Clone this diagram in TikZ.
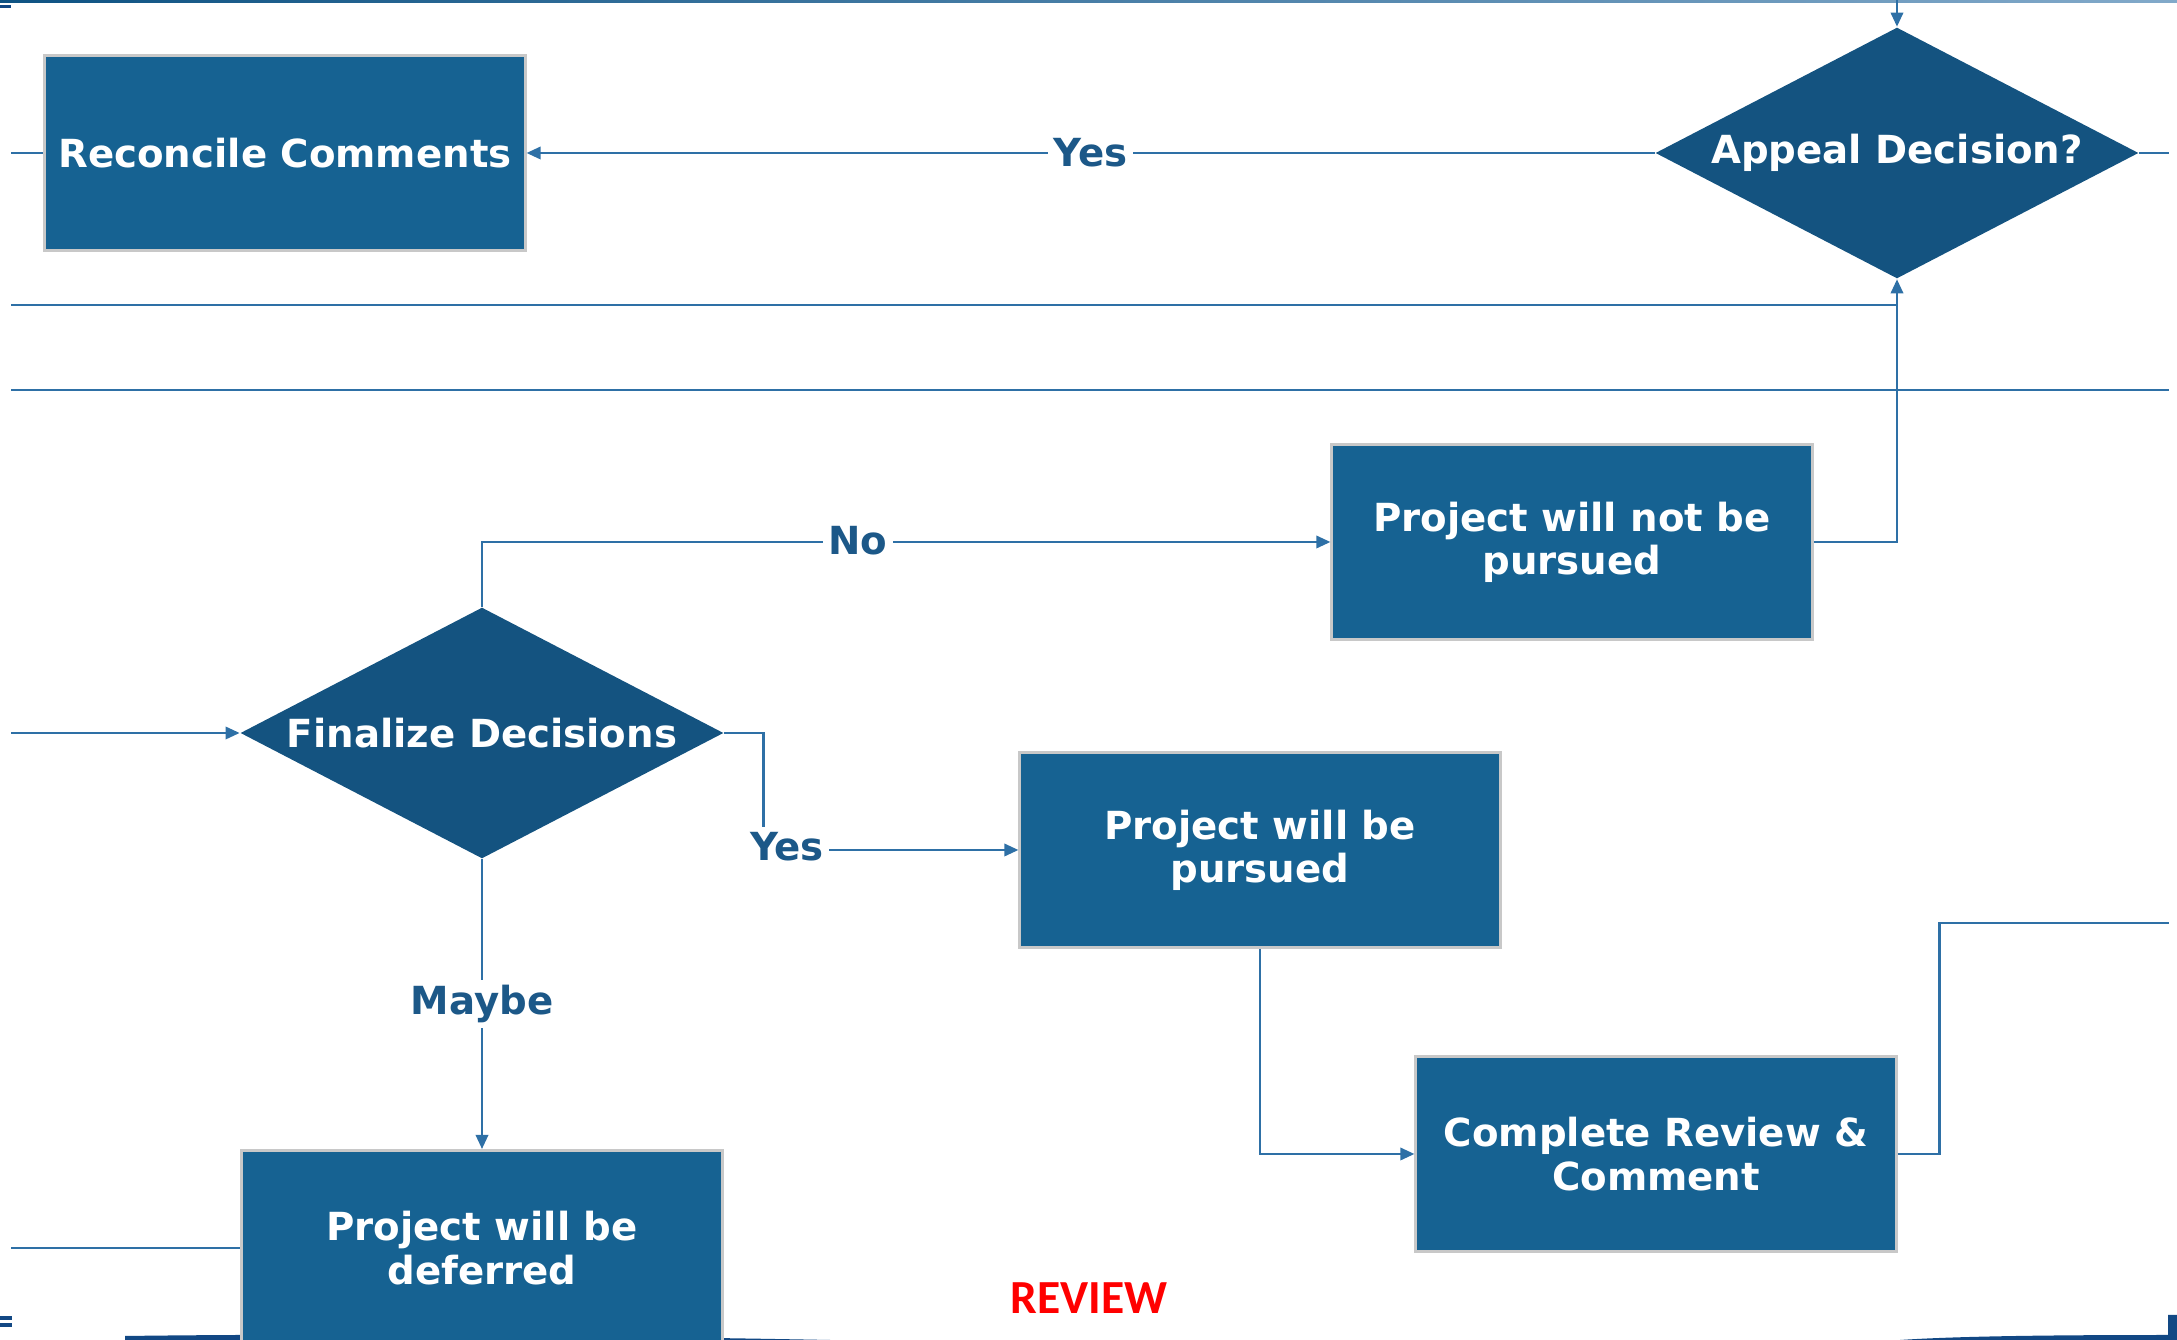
\documentclass[tikz,border=0pt]{standalone}
\usepackage{fontspec}
\setmainfont{DejaVu Sans}
\newfontfamily\reviewfont{Carlito}
\usetikzlibrary{shapes.geometric,arrows.meta}
\definecolor{boxblue}{RGB}{22,98,146}
\definecolor{decblue}{RGB}{20,83,128}
\definecolor{lineblue}{RGB}{46,112,166}
\definecolor{lblblue}{RGB}{28,88,136}
\definecolor{edgegray}{RGB}{200,200,200}
\definecolor{swoosh}{RGB}{18,72,132}
\tikzstyle{procbox}=[rectangle,fill=boxblue,draw=edgegray,line width=0.8pt,minimum width=4.8cm,minimum height=1.95cm,text=white,font=\bfseries\fontsize{11}{12.3}\selectfont,align=center,inner sep=0pt]
\tikzstyle{decbox}=[diamond,aspect=1.92,fill=decblue,minimum width=4.83cm,minimum height=2.51cm,text=white,font=\bfseries\fontsize{11}{12.3}\selectfont,inner sep=0pt]
\tikzstyle{conn}=[draw=lineblue,line width=0.7pt]
\tikzstyle{arw}=[conn,-{Triangle[length=4pt,width=3.5pt]}]
\tikzstyle{lbl}=[fill=white,text=lblblue,font=\bfseries\fontsize{11}{12}\selectfont,inner sep=1.5pt]

\begin{document}
\begin{tikzpicture}[x=0.01cm,y=-0.01cm]
    \useasboundingbox (0,0) rectangle (2177,1340);
    % slide trim
    \shade[left color=swoosh!80!teal,right color=lineblue!60] (0,0) rectangle (2177,3);
    \fill[swoosh] (0,5) rectangle (11,8);
    \fill[swoosh] (0,1316) rectangle (12,1320);
    \fill[swoosh] (0,1323) rectangle (12,1327);
    \fill[swoosh] (125,1336) .. controls (350,1333) and (620,1336) .. (830,1340) -- (125,1340) -- cycle;
    \fill[swoosh] (1900,1340) .. controls (1960,1336) and (2060,1335) .. (2168,1335) -- (2168,1315) -- (2177,1315) -- (2177,1340) -- cycle;

    \node[procbox] (rec)  at (285,153)   {Reconcile Comments};
    \node[decbox]  (app)  at (1897,153)  {Appeal Decision?};
    \node[procbox] (npur) at (1572,542)  {Project will not be\\pursued};
    \node[decbox]  (fin)  at (482,733)   {Finalize Decisions};
    \node[procbox] (pur)  at (1260,850)  {Project will be\\pursued};
    \node[procbox] (comp) at (1656,1154) {Complete Review \&\\Comment};
    \node[procbox] (def)  at (482,1248)  {Project will be\\deferred};

    \coordinate (topin) at (1897,0);
    \coordinate (l1) at (11,153);
    \coordinate (r1) at (2169,153);
    \coordinate (lanea) at (11,305);
    \coordinate (laneb) at (1897,305);
    \coordinate (lanec) at (11,390);
    \coordinate (laned) at (2169,390);
    \coordinate (l2) at (11,733);
    \coordinate (l3) at (11,1248);
    \coordinate (r2) at (2169,923);

    \foreach \from/\to in {l1/rec.west,app.east/r1,lanea/laneb,lanec/laned,l3/def.west}
    \draw[conn] (\from) -- (\to);

    \draw[arw] (topin) -- (app.north);
    \draw[arw] (app.west) -- node[lbl] {Yes} (rec.east);
    \draw[arw] (l2) -- (fin.west);
    \draw[arw] (fin.north) |- (npur.west);
    \node[lbl] (no) at (858,541) {No};
    \draw[arw] (npur.east) -| (app.south);
    \draw[arw] (fin.east) -- ++(39,0) |- (pur.west);
    \node[lbl] (yes) at (787,847) {Yes};
    \draw[arw] (fin.south) -- node[lbl] {Maybe} (def.north);
    \draw[arw] (pur.south) |- (comp.west);
    \draw[conn] (comp.east) -- ++(42,0) |- (r2);

    \node[text=red,font=\reviewfont\bfseries\fontsize{13.5}{14}\selectfont] (rev) at (1089,1298) {REVIEW};
\end{tikzpicture}
\end{document}
